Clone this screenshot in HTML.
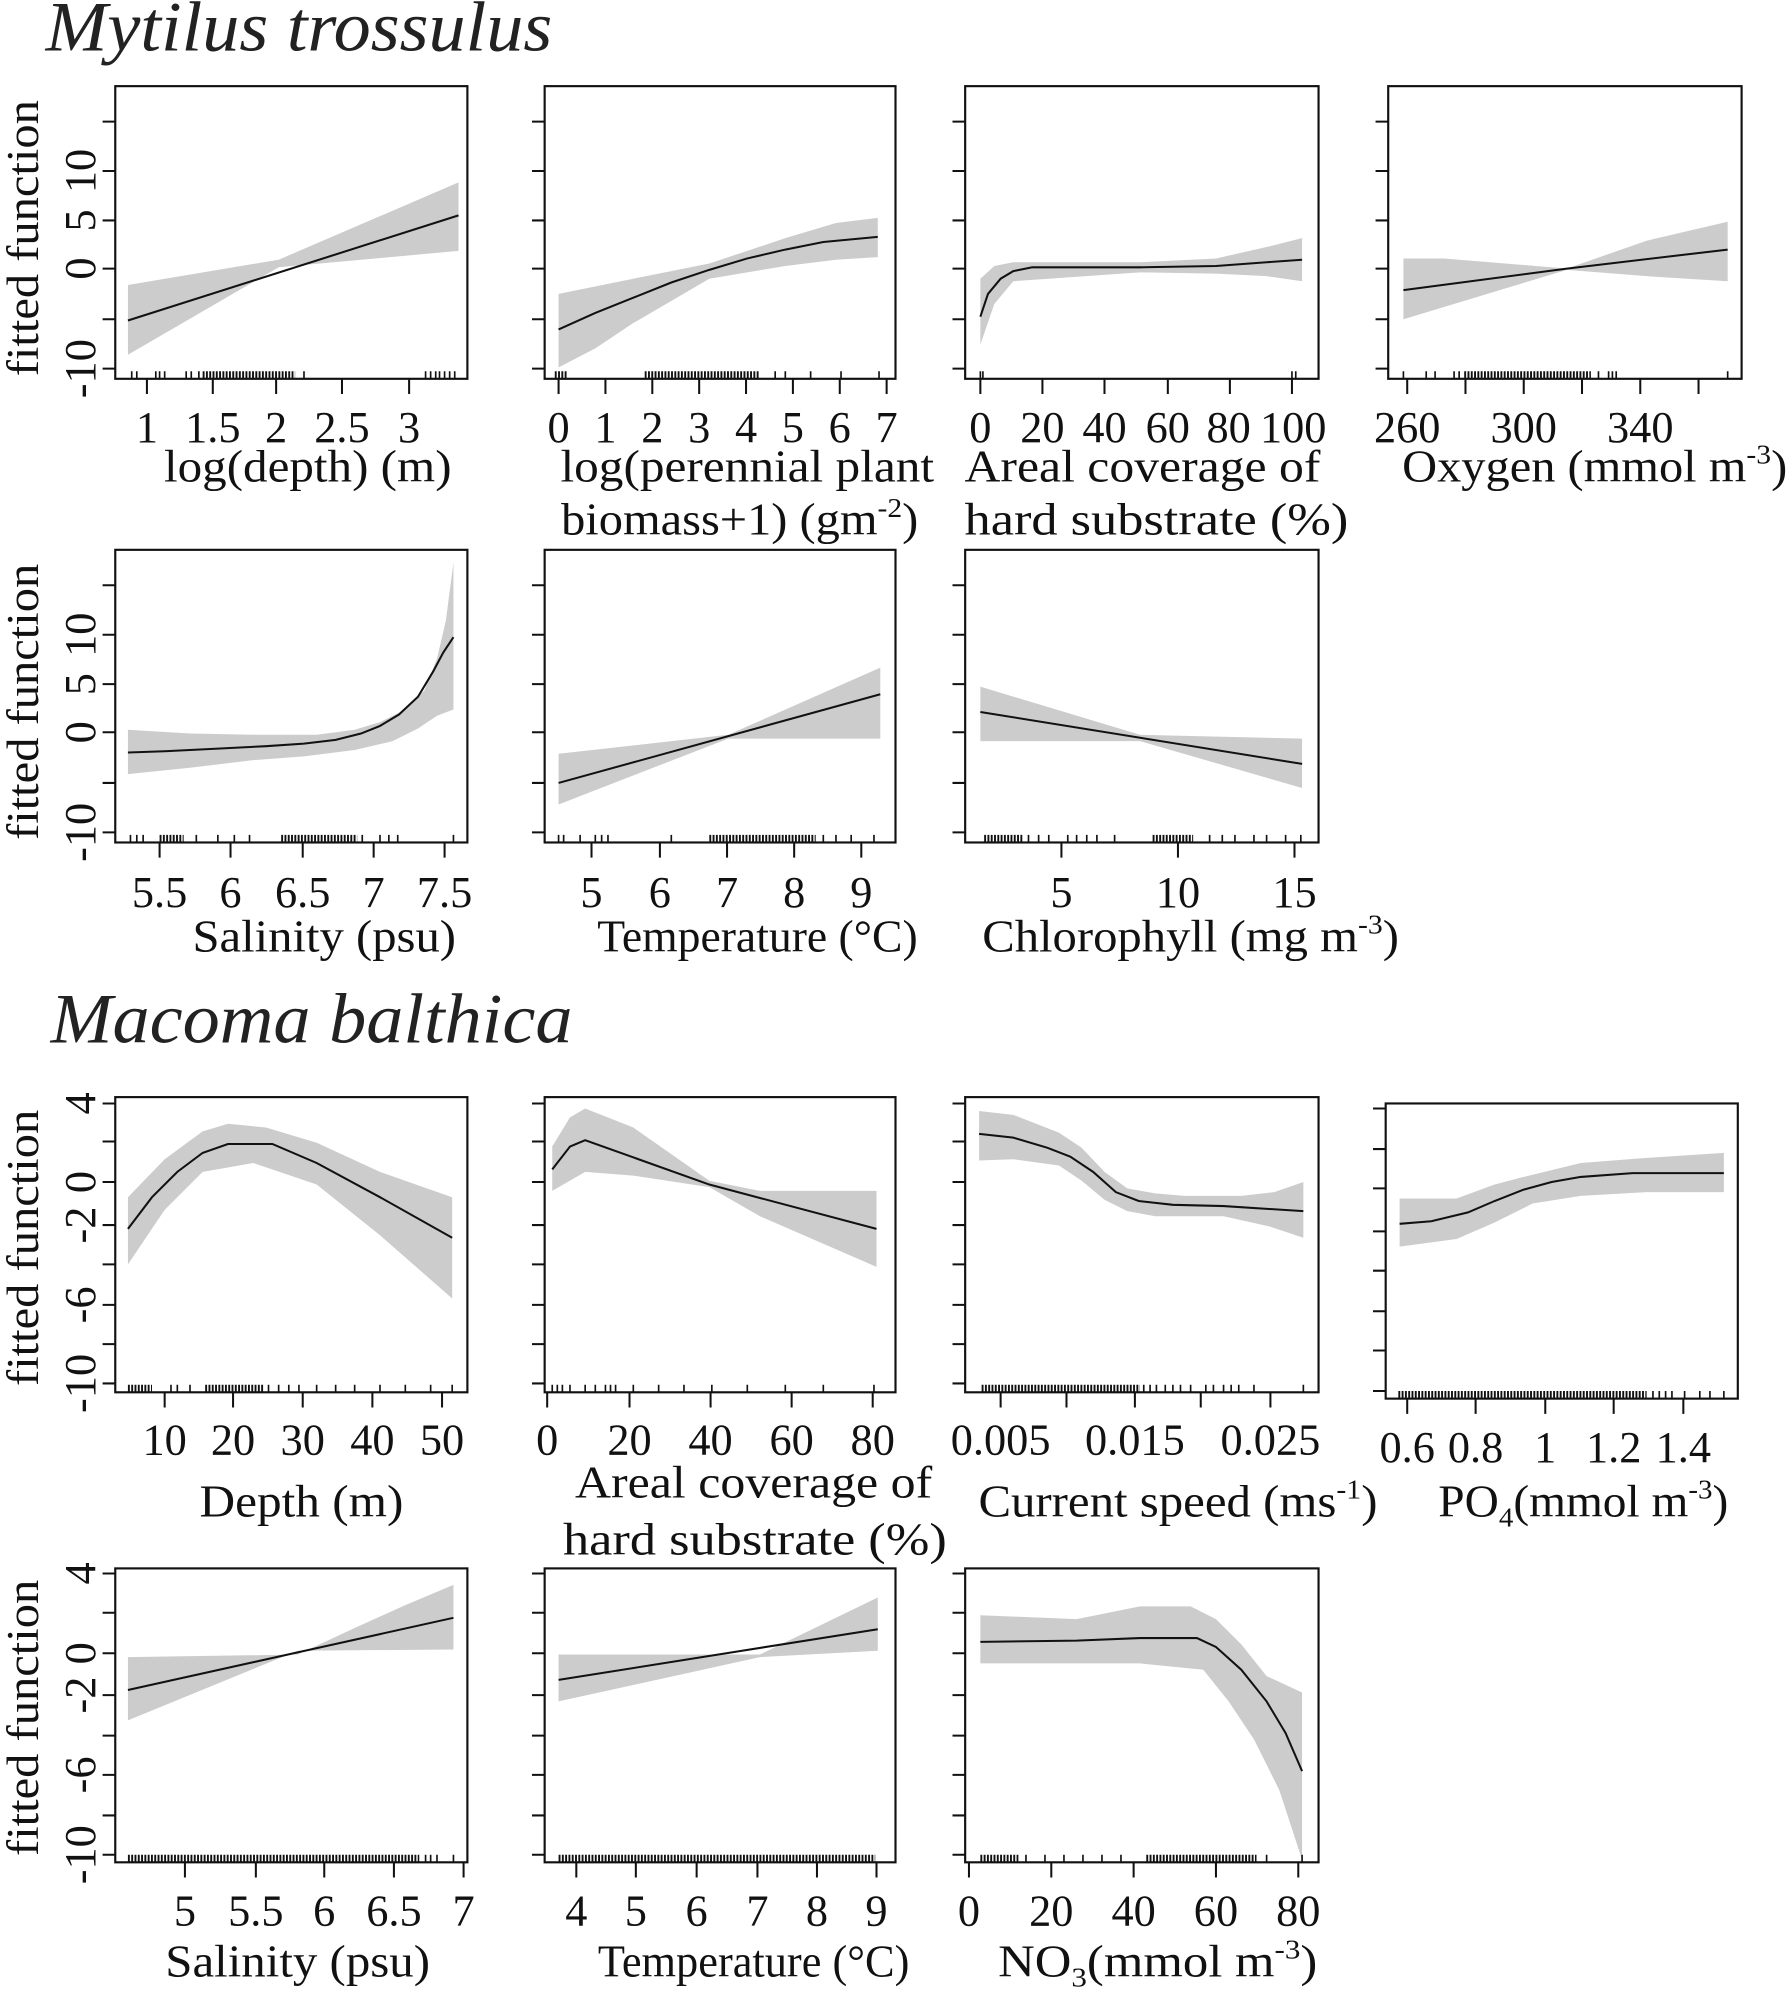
<!DOCTYPE html>
<html><head><meta charset="utf-8"><style>
html,body{margin:0;padding:0;background:#fff;}
svg{display:block;}
text{font-family:"Liberation Serif",serif;fill:#111;}
.t{font-size:35px;text-anchor:middle;}
.l{font-size:36px;text-anchor:middle;}
.yl{font-size:35px;text-anchor:middle;}
.box{fill:none;stroke:#111;stroke-width:1.7;}
.tk{stroke:#111;stroke-width:1.6;fill:none;}
.band{fill:#cccccc;stroke:none;}
.cv{fill:none;stroke:#111;stroke-width:1.6;}
.rug{stroke:#111;stroke-width:1.3;fill:none;}
.dr{stroke:#111;stroke-width:6;stroke-dasharray:1.5 1.1;fill:none;}
.ttl{font-size:56px;font-style:italic;fill:#222;}
</style></head><body>
<svg width="1791" height="1989" viewBox="0 0 1414 1570" preserveAspectRatio="none" xmlns="http://www.w3.org/2000/svg">
<rect width="1414" height="1570" fill="#fff"/>
<text class="ttl" x="36" y="40" textLength="400" lengthAdjust="spacingAndGlyphs">Mytilus trossulus</text>
<text class="ttl" x="40" y="823" textLength="412" lengthAdjust="spacingAndGlyphs">Macoma balthica</text>

<text class="l" transform="translate(30,188) rotate(-90)" textLength="218" lengthAdjust="spacingAndGlyphs">fitted function</text>
<text class="l" transform="translate(30,554) rotate(-90)" textLength="218" lengthAdjust="spacingAndGlyphs">fitted function</text>
<text class="l" transform="translate(30,985) rotate(-90)" textLength="218" lengthAdjust="spacingAndGlyphs">fitted function</text>
<text class="l" transform="translate(30,1356) rotate(-90)" textLength="218" lengthAdjust="spacingAndGlyphs">fitted function</text>

<text class="yl" transform="translate(75,135) rotate(-90)">10</text>
<text class="yl" transform="translate(75,174) rotate(-90)">5</text>
<text class="yl" transform="translate(75,212) rotate(-90)">0</text>
<text class="yl" transform="translate(75,291) rotate(-90)">-10</text>
<text class="yl" transform="translate(75,501) rotate(-90)">10</text>
<text class="yl" transform="translate(75,540) rotate(-90)">5</text>
<text class="yl" transform="translate(75,578) rotate(-90)">0</text>
<text class="yl" transform="translate(75,657) rotate(-90)">-10</text>
<text class="yl" transform="translate(75,871) rotate(-90)">4</text>
<text class="yl" transform="translate(75,933) rotate(-90)">0</text>
<text class="yl" transform="translate(75,967) rotate(-90)">-2</text>
<text class="yl" transform="translate(75,1030) rotate(-90)">-6</text>
<text class="yl" transform="translate(75,1092) rotate(-90)">-10</text>
<text class="yl" transform="translate(75,1242) rotate(-90)">4</text>
<text class="yl" transform="translate(75,1305) rotate(-90)">0</text>
<text class="yl" transform="translate(75,1338) rotate(-90)">-2</text>
<text class="yl" transform="translate(75,1401) rotate(-90)">-6</text>
<text class="yl" transform="translate(75,1464) rotate(-90)">-10</text>

<!-- ===== Row 1 ===== -->
<polygon class="band" points="101,225 220,205 362,144 362,198 220,211 101,280"/>
<polyline class="cv" points="101,253 362,170"/>
<rect class="box" x="91" y="68" width="278" height="231"/>
<path class="tk" d="M91,96h-10M91,135h-10M91,174h-10M91,212h-10M91,252h-10M91,291h-10M116,299v12M168,299v12M218,299v12M270,299v12M323,299v12"/>
<path class="rug" d="M104,299v-6M108,299v-6M123,299v-6M126,299v-6M130,299v-6M147,299v-6M151,299v-6M157,299v-6M240,299v-6M336,299v-6M340,299v-6M344,299v-6M347,299v-6M351,299v-6M355,299v-6M359,299v-6"/>
<path class="dr" d="M160,296H233"/>
<text class="t" x="116" y="349">1</text><text class="t" x="168" y="349">1.5</text><text class="t" x="218" y="349">2</text><text class="t" x="270" y="349">2.5</text><text class="t" x="323" y="349">3</text>
<text class="l" x="243" y="380" textLength="227" lengthAdjust="spacingAndGlyphs">log(depth) (m)</text>

<polygon class="band" points="441,232 500,220 560,208 620,188 660,176 693,172 693,203 660,205 620,210 560,220 500,255 470,275 441,290"/>
<polyline class="cv" points="441,260 470,247 500,235 530,223 560,213 590,204 620,197 650,191 693,187"/>
<rect class="box" x="430" y="68" width="277" height="231"/>
<path class="tk" d="M430,96h-10M430,135h-10M430,174h-10M430,212h-10M430,252h-10M430,291h-10M441,299v12M478,299v12M515,299v12M552,299v12M589,299v12M626,299v12M663,299v12M700,299v12"/>
<path class="rug" d="M612,299v-6M620,299v-6M640,299v-6M664,299v-6M694,299v-6"/>
<path class="dr" d="M438,296H448M509,296H600"/>
<text class="t" x="441" y="349">0</text><text class="t" x="478" y="349">1</text><text class="t" x="515" y="349">2</text><text class="t" x="552" y="349">3</text><text class="t" x="589" y="349">4</text><text class="t" x="626" y="349">5</text><text class="t" x="663" y="349">6</text><text class="t" x="700" y="349">7</text>
<text class="l" x="590" y="380" textLength="295" lengthAdjust="spacingAndGlyphs">log(perennial plant</text>
<text class="l" x="584" y="422" textLength="282" lengthAdjust="spacingAndGlyphs">biomass+1) (gm<tspan font-size="22" dy="-14">-2</tspan><tspan dy="14">)</tspan></text>

<polygon class="band" points="774,220 785,210 800,207 900,207 960,204 1000,195 1028,188 1028,222 1000,218 960,216 900,215 800,222 785,240 774,272"/>
<polyline class="cv" points="774,250 780,232 790,220 800,214 815,211 900,211 960,210 1000,207 1028,205"/>
<rect class="box" x="762" y="68" width="279" height="231"/>
<path class="tk" d="M762,96h-10M762,135h-10M762,174h-10M762,212h-10M762,252h-10M762,291h-10M774,299v12M823,299v12M872,299v12M922,299v12M971,299v12M1020,299v12"/>
<path class="rug" d="M774,299v-6M776,299v-6M1020,299v-6M1023,299v-6"/>
<text class="t" x="774" y="349">0</text><text class="t" x="823" y="349">20</text><text class="t" x="872" y="349">40</text><text class="t" x="922" y="349">60</text><text class="t" x="970" y="349">80</text><text class="t" x="1021" y="349">100</text>
<text class="l" x="902" y="380" textLength="281" lengthAdjust="spacingAndGlyphs">Areal coverage of</text>
<text class="l" x="913" y="422" textLength="303" lengthAdjust="spacingAndGlyphs">hard substrate (%)</text>

<polygon class="band" points="1108,204 1140,204 1237,212 1300,190 1364,175 1364,222 1300,218 1237,213 1108,252"/>
<polyline class="cv" points="1108,229 1237,212 1364,197"/>
<rect class="box" x="1096" y="68" width="279" height="231"/>
<path class="tk" d="M1096,96h-10M1096,135h-10M1096,174h-10M1096,212h-10M1096,252h-10M1096,291h-10M1111,299v12M1157,299v12M1203,299v12M1249,299v12M1295,299v12M1341,299v12"/>
<path class="rug" d="M1108,299v-6M1126,299v-6M1133,299v-6M1148,299v-6M1152,299v-6M1262,299v-6M1270,299v-6M1273,299v-6M1276,299v-6M1364,299v-6"/>
<path class="dr" d="M1156,296H1256"/>
<text class="t" x="1111" y="349">260</text><text class="t" x="1203" y="349">300</text><text class="t" x="1295" y="349">340</text>
<text class="l" x="1259" y="380" textLength="304" lengthAdjust="spacingAndGlyphs">Oxygen (mmol m<tspan font-size="22" dy="-14">-3</tspan><tspan dy="14">)</tspan></text>

<!-- ===== Row 2 ===== -->
<polygon class="band" points="101,576 150,579 200,580 250,580 280,576 300,570 320,560 335,545 345,520 352,490 358,444 358,560 345,565 330,575 310,585 280,592 240,597 200,600 150,606 101,611"/>
<polyline class="cv" points="101,594 130,593 170,591 210,589 240,587 265,584 285,579 300,573 315,564 330,550 342,530 350,515 358,503"/>
<rect class="box" x="91" y="434" width="278" height="231"/>
<path class="tk" d="M91,462h-10M91,501h-10M91,540h-10M91,578h-10M91,618h-10M91,657h-10M126,665v12M182,665v12M239,665v12M295,665v12M351,665v12"/>
<path class="rug" d="M103,665v-6M108,665v-6M113,665v-6M155,665v-6M172,665v-6M185,665v-6M197,665v-6M286,665v-6M300,665v-6M307,665v-6M314,665v-6M358,665v-6"/>
<path class="dr" d="M126,662H145M222,662H282"/>
<text class="t" x="126" y="716">5.5</text><text class="t" x="182" y="716">6</text><text class="t" x="239" y="716">6.5</text><text class="t" x="295" y="716">7</text><text class="t" x="351" y="716">7.5</text>
<text class="l" x="256" y="751" textLength="208" lengthAdjust="spacingAndGlyphs">Salinity (psu)</text>

<polygon class="band" points="441,595 575,580 695,527 695,583 575,583 441,635"/>
<polyline class="cv" points="441,618 695,548"/>
<rect class="box" x="430" y="434" width="277" height="231"/>
<path class="tk" d="M430,462h-10M430,501h-10M430,540h-10M430,578h-10M430,618h-10M430,657h-10M467,665v12M521,665v12M574,665v12M627,665v12M680,665v12"/>
<path class="rug" d="M441,665v-6M445,665v-6M458,665v-6M470,665v-6M475,665v-6M480,665v-6M530,665v-6M650,665v-6M660,665v-6M672,665v-6M690,665v-6"/>
<path class="dr" d="M560,662H644"/>
<text class="t" x="467" y="716">5</text><text class="t" x="521" y="716">6</text><text class="t" x="574" y="716">7</text><text class="t" x="627" y="716">8</text><text class="t" x="680" y="716">9</text>
<text class="l" x="598" y="751" textLength="253" lengthAdjust="spacingAndGlyphs">Temperature (°C)</text>

<polygon class="band" points="774,542 900,580 1028,583 1028,622 900,585 774,585"/>
<polyline class="cv" points="774,562 1028,603"/>
<rect class="box" x="762" y="434" width="279" height="231"/>
<path class="tk" d="M762,462h-10M762,501h-10M762,540h-10M762,578h-10M762,618h-10M762,657h-10M838,665v12M930,665v12M1022,665v12"/>
<path class="rug" d="M812,665v-6M820,665v-6M828,665v-6M843,665v-6M850,665v-6M858,665v-6M866,665v-6M880,665v-6M955,665v-6M965,665v-6M975,665v-6M990,665v-6M1000,665v-6M1015,665v-6M1027,665v-6"/>
<path class="dr" d="M777,662H808M910,662H942"/>
<text class="t" x="838" y="716">5</text><text class="t" x="930" y="716">10</text><text class="t" x="1022" y="716">15</text>
<text class="l" x="940" y="751" textLength="329" lengthAdjust="spacingAndGlyphs">Chlorophyll (mg m<tspan font-size="22" dy="-14">-3</tspan><tspan dy="14">)</tspan></text>

<!-- ===== Row 3 ===== -->
<polygon class="band" points="101,945 130,915 160,893 180,887 210,890 250,902 300,925 357,945 357,1025 300,975 250,935 200,918 160,925 130,955 101,998"/>
<polyline class="cv" points="101,970 120,945 140,925 160,910 180,903 215,903 250,918 300,945 357,977"/>
<rect class="box" x="91" y="866" width="278" height="233"/>
<path class="tk" d="M91,871h-10M91,901h-10M91,933h-10M91,967h-10M91,998h-10M91,1030h-10M91,1061h-10M91,1092h-10M130,1099v12M184,1099v12M239,1099v12M294,1099v12M349,1099v12"/>
<path class="rug" d="M135,1099v-6M140,1099v-6M150,1099v-6M212,1099v-6M220,1099v-6M228,1099v-6M236,1099v-6M250,1099v-6M265,1099v-6M280,1099v-6M300,1099v-6M320,1099v-6M340,1099v-6M357,1099v-6"/>
<path class="dr" d="M101,1096H120M162,1096H208"/>
<text class="t" x="130" y="1148">10</text><text class="t" x="184" y="1148">20</text><text class="t" x="239" y="1148">30</text><text class="t" x="294" y="1148">40</text><text class="t" x="349" y="1148">50</text>
<text class="l" x="238" y="1197" textLength="161" lengthAdjust="spacingAndGlyphs">Depth (m)</text>

<polygon class="band" points="436,905 450,882 462,875 500,890 560,932 600,940 692,940 692,1000 600,960 560,937 500,928 462,925 436,940"/>
<polyline class="cv" points="436,923 450,905 462,900 560,935 692,970"/>
<rect class="box" x="430" y="866" width="277" height="233"/>
<path class="tk" d="M430,871h-10M430,901h-10M430,933h-10M430,967h-10M430,998h-10M430,1030h-10M430,1061h-10M430,1092h-10M432,1099v12M497,1099v12M561,1099v12M625,1099v12M689,1099v12"/>
<path class="rug" d="M436,1099v-6M440,1099v-6M444,1099v-6M450,1099v-6M462,1099v-6M470,1099v-6M478,1099v-6M482,1099v-6M486,1099v-6M500,1099v-6M520,1099v-6M540,1099v-6M562,1099v-6M590,1099v-6M620,1099v-6M650,1099v-6M690,1099v-6"/>
<text class="t" x="432" y="1148">0</text><text class="t" x="497" y="1148">20</text><text class="t" x="561" y="1148">40</text><text class="t" x="625" y="1148">60</text><text class="t" x="689" y="1148">80</text>
<text class="l" x="595" y="1182" textLength="282" lengthAdjust="spacingAndGlyphs">Areal coverage of</text>
<text class="l" x="596" y="1227" textLength="303" lengthAdjust="spacingAndGlyphs">hard substrate (%)</text>

<polygon class="band" points="773,877 800,880 836,894 854,906 872,925 890,938 912,942 935,944 980,944 1006,941 1029,933 1029,977 1002,968 966,960 912,960 890,956 872,947 854,932 836,920 800,915 773,916"/>
<polyline class="cv" points="773,895 800,898 827,906 845,913 863,925 881,941 899,948 926,951 966,952 1029,956"/>
<rect class="box" x="762" y="866" width="279" height="233"/>
<path class="tk" d="M762,871h-10M762,901h-10M762,933h-10M762,967h-10M762,998h-10M762,1030h-10M762,1061h-10M762,1092h-10M790,1099v12M842,1099v12M896,1099v12M948,1099v12M1003,1099v12"/>
<path class="dr" d="M775,1096H900"/>
<path class="rug" d="M903,1099v-6M908,1099v-6M913,1099v-6M920,1099v-6M926,1099v-6M932,1099v-6M940,1099v-6M952,1099v-6M958,1099v-6M966,1099v-6M972,1099v-6M978,1099v-6M990,1099v-6M1029,1099v-6"/>
<text class="t" x="790" y="1148">0.005</text><text class="t" x="896" y="1148">0.015</text><text class="t" x="1003" y="1148">0.025</text>
<text class="l" x="930" y="1197" textLength="315" lengthAdjust="spacingAndGlyphs">Current speed (ms<tspan font-size="22" dy="-14">-1</tspan><tspan dy="14">)</tspan></text>

<polygon class="band" points="1105,946 1150,946 1180,935 1203,929 1248,918 1300,914 1361,910 1361,941 1300,941 1248,944 1210,950 1180,965 1150,978 1105,984"/>
<polyline class="cv" points="1105,966 1130,964 1159,957 1180,948 1203,939 1225,933 1248,929 1289,926 1361,926"/>
<rect class="box" x="1094" y="871" width="278" height="233"/>
<path class="tk" d="M1094,875h-10M1094,907h-10M1094,938h-10M1094,972h-10M1094,1003h-10M1094,1035h-10M1094,1066h-10M1094,1098h-10M1111,1104v12M1165,1104v12M1220,1104v12M1274,1104v12M1329,1104v12"/>
<path class="dr" d="M1104,1101H1300"/>
<path class="rug" d="M1305,1104v-6M1310,1104v-6M1315,1104v-6M1320,1104v-6M1330,1104v-6M1342,1104v-6M1350,1104v-6M1361,1104v-6"/>
<text class="t" x="1111" y="1154">0.6</text><text class="t" x="1165" y="1154">0.8</text><text class="t" x="1220" y="1154">1</text><text class="t" x="1274" y="1154">1.2</text><text class="t" x="1329" y="1154">1.4</text>
<text class="l" x="1250" y="1197" textLength="229" lengthAdjust="spacingAndGlyphs">PO<tspan font-size="22" dy="8">4</tspan><tspan dy="-8">(mmol m</tspan><tspan font-size="22" dy="-14">-3</tspan><tspan dy="14">)</tspan></text>

<!-- ===== Row 4 ===== -->
<polygon class="band" points="101,1308 235,1306 280,1285 320,1267 358,1251 358,1302 235,1303 101,1358"/>
<polyline class="cv" points="101,1334 358,1277"/>
<rect class="box" x="91" y="1238" width="278" height="232"/>
<path class="tk" d="M91,1242h-10M91,1273h-10M91,1305h-10M91,1338h-10M91,1370h-10M91,1401h-10M91,1433h-10M91,1464h-10M146,1470v12M202,1470v12M256,1470v12M311,1470v12M366,1470v12"/>
<path class="dr" d="M101,1467H331"/>
<path class="rug" d="M336,1470v-6M340,1470v-6M345,1470v-6M358,1470v-6"/>
<text class="t" x="146" y="1520">5</text><text class="t" x="202" y="1520">5.5</text><text class="t" x="256" y="1520">6</text><text class="t" x="311" y="1520">6.5</text><text class="t" x="366" y="1520">7</text>
<text class="l" x="235" y="1560" textLength="209" lengthAdjust="spacingAndGlyphs">Salinity (psu)</text>

<polygon class="band" points="441,1306 600,1306 693,1261 693,1303 600,1308 441,1343"/>
<polyline class="cv" points="441,1326 693,1286"/>
<rect class="box" x="430" y="1238" width="277" height="232"/>
<path class="tk" d="M430,1242h-10M430,1273h-10M430,1305h-10M430,1338h-10M430,1370h-10M430,1401h-10M430,1433h-10M430,1464h-10M455,1470v12M502,1470v12M550,1470v12M598,1470v12M645,1470v12M692,1470v12"/>
<path class="dr" d="M441,1467H691"/>
<text class="t" x="455" y="1520">4</text><text class="t" x="502" y="1520">5</text><text class="t" x="550" y="1520">6</text><text class="t" x="598" y="1520">7</text><text class="t" x="645" y="1520">8</text><text class="t" x="692" y="1520">9</text>
<text class="l" x="595" y="1560" textLength="246" lengthAdjust="spacingAndGlyphs">Temperature (°C)</text>

<polygon class="band" points="774,1275 850,1278 900,1268 940,1268 960,1278 980,1298 1000,1323 1028,1336 1028,1468 1010,1413 990,1373 970,1343 950,1318 900,1313 850,1313 774,1313"/>
<polyline class="cv" points="774,1296 850,1295 900,1293 945,1293 960,1300 980,1318 1000,1343 1015,1368 1028,1398"/>
<rect class="box" x="762" y="1238" width="279" height="232"/>
<path class="tk" d="M762,1242h-10M762,1273h-10M762,1305h-10M762,1338h-10M762,1370h-10M762,1401h-10M762,1433h-10M762,1464h-10M765,1470v12M830,1470v12M895,1470v12M960,1470v12M1025,1470v12"/>
<path class="dr" d="M774,1467H804M905,1467H992"/>
<path class="rug" d="M810,1470v-6M825,1470v-6M840,1470v-6M855,1470v-6M870,1470v-6M885,1470v-6M1000,1470v-6M1028,1470v-6"/>
<text class="t" x="765" y="1520">0</text><text class="t" x="830" y="1520">20</text><text class="t" x="895" y="1520">40</text><text class="t" x="960" y="1520">60</text><text class="t" x="1025" y="1520">80</text>
<text class="l" x="914" y="1560" textLength="252" lengthAdjust="spacingAndGlyphs">NO<tspan font-size="22" dy="8">3</tspan><tspan dy="-8">(mmol m</tspan><tspan font-size="22" dy="-14">-3</tspan><tspan dy="14">)</tspan></text>
</svg>
</body></html>
